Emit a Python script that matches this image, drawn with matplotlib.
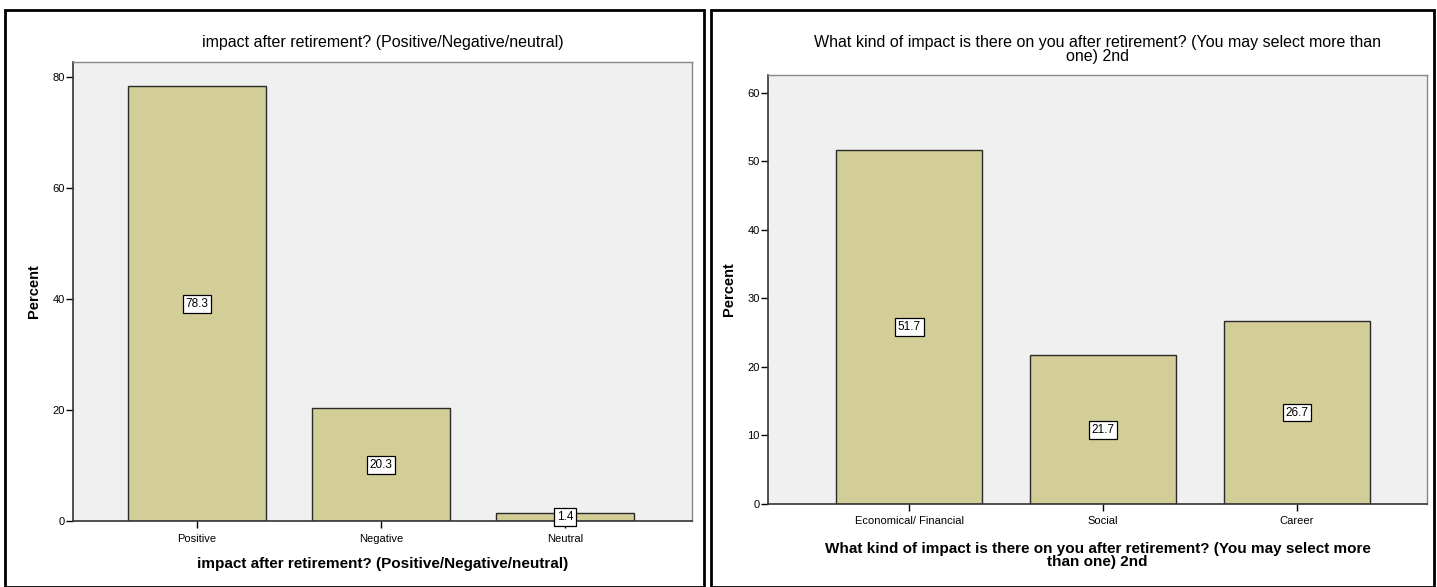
import matplotlib
matplotlib.use("Agg")
from matplotlib import pyplot as plt
from matplotlib.patches import Rectangle

# survey results, percent of respondents
impact_cats = ['Positive', 'Negative', 'Neutral']
impact_pct = [78.3, 20.3, 1.4]

kind_cats = ['Economical/ Financial', 'Social', 'Career']
kind_pct = [51.7, 21.7, 26.7]

left_title = 'impact after retirement? (Positive/Negative/neutral)'
right_title = ('What kind of impact is there on you after retirement? (You may select more than\n'
               'one) 2nd')
right_xlabel = ('What kind of impact is there on you after retirement? (You may select more\n'
                'than one) 2nd')

plt.rcParams['font.family'] = ['Liberation Sans Narrow', 'Liberation Sans', 'DejaVu Sans']

BAR = '#d3ce97'
BG = '#f0f0f0'
W, H = 1437, 587

fig = plt.figure(figsize=(W / 100, H / 100), dpi=100)


def px_axes(x0, y0, x1, y1):
    return fig.add_axes([x0 / W, 1 - y1 / H, (x1 - x0) / W, (y1 - y0) / H])


def draw_panel(ax, cats, vals, ymax, yticks, xlim, xlabel, title, title_pad, xlabel_pad):
    pos = range(len(cats))
    ax.set_facecolor(BG)
    ax.bar(pos, vals, width=0.75, color=BAR, edgecolor='#2a2a2a', linewidth=1.0, zorder=2)
    for p, v in zip(pos, vals):
        ax.text(p, v / 2, f'{v:.1f}', ha='center', va='center', fontsize=8.5, zorder=3,
                bbox=dict(boxstyle='square,pad=0.25', fc='white', ec='black', lw=0.9))
    ax.set_xlim(*xlim)
    ax.set_ylim(0, ymax)
    ax.set_yticks(yticks)
    ax.set_xticks(list(pos))
    ax.set_xticklabels(cats, fontsize=8)
    ax.tick_params(axis='y', labelsize=8, length=5, width=1, direction='out', pad=1)
    ax.tick_params(axis='x', length=5, width=1, direction='out', pad=4)
    for side in ('top', 'right'):
        ax.spines[side].set_color('#888888')
        ax.spines[side].set_linewidth(1)
    for side in ('left', 'bottom'):
        ax.spines[side].set_color('#333333')
        ax.spines[side].set_linewidth(1.2)
    ax.set_ylabel('Percent', fontsize=10.5, fontweight='bold', labelpad=8)
    ax.set_xlabel(xlabel, fontsize=11, fontweight='bold', labelpad=xlabel_pad, linespacing=0.9)
    ax.set_title(title, fontsize=11.5, linespacing=0.9, pad=title_pad)


ax1 = px_axes(73, 62, 692, 521)
draw_panel(ax1, impact_cats, impact_pct, 82.7, [0, 20, 40, 60, 80],
           (-0.674, 2.69), left_title, left_title, 11, 10)

ax2 = px_axes(768, 75, 1427, 504)
draw_panel(ax2, kind_cats, kind_pct, 62.6, [0, 10, 20, 30, 40, 50, 60],
           (-0.727, 2.67), right_xlabel, right_title, 10, 11)

# black frames around each chart
for x0, x1 in [(5, 704), (711, 1434)]:
    fig.add_artist(Rectangle((x0 / W, 0.0), (x1 - x0) / W, 1 - 10 / H,
                             transform=fig.transFigure, fill=False, ec='black', lw=2))

fig.savefig('out.png', dpi=100, facecolor='white')
